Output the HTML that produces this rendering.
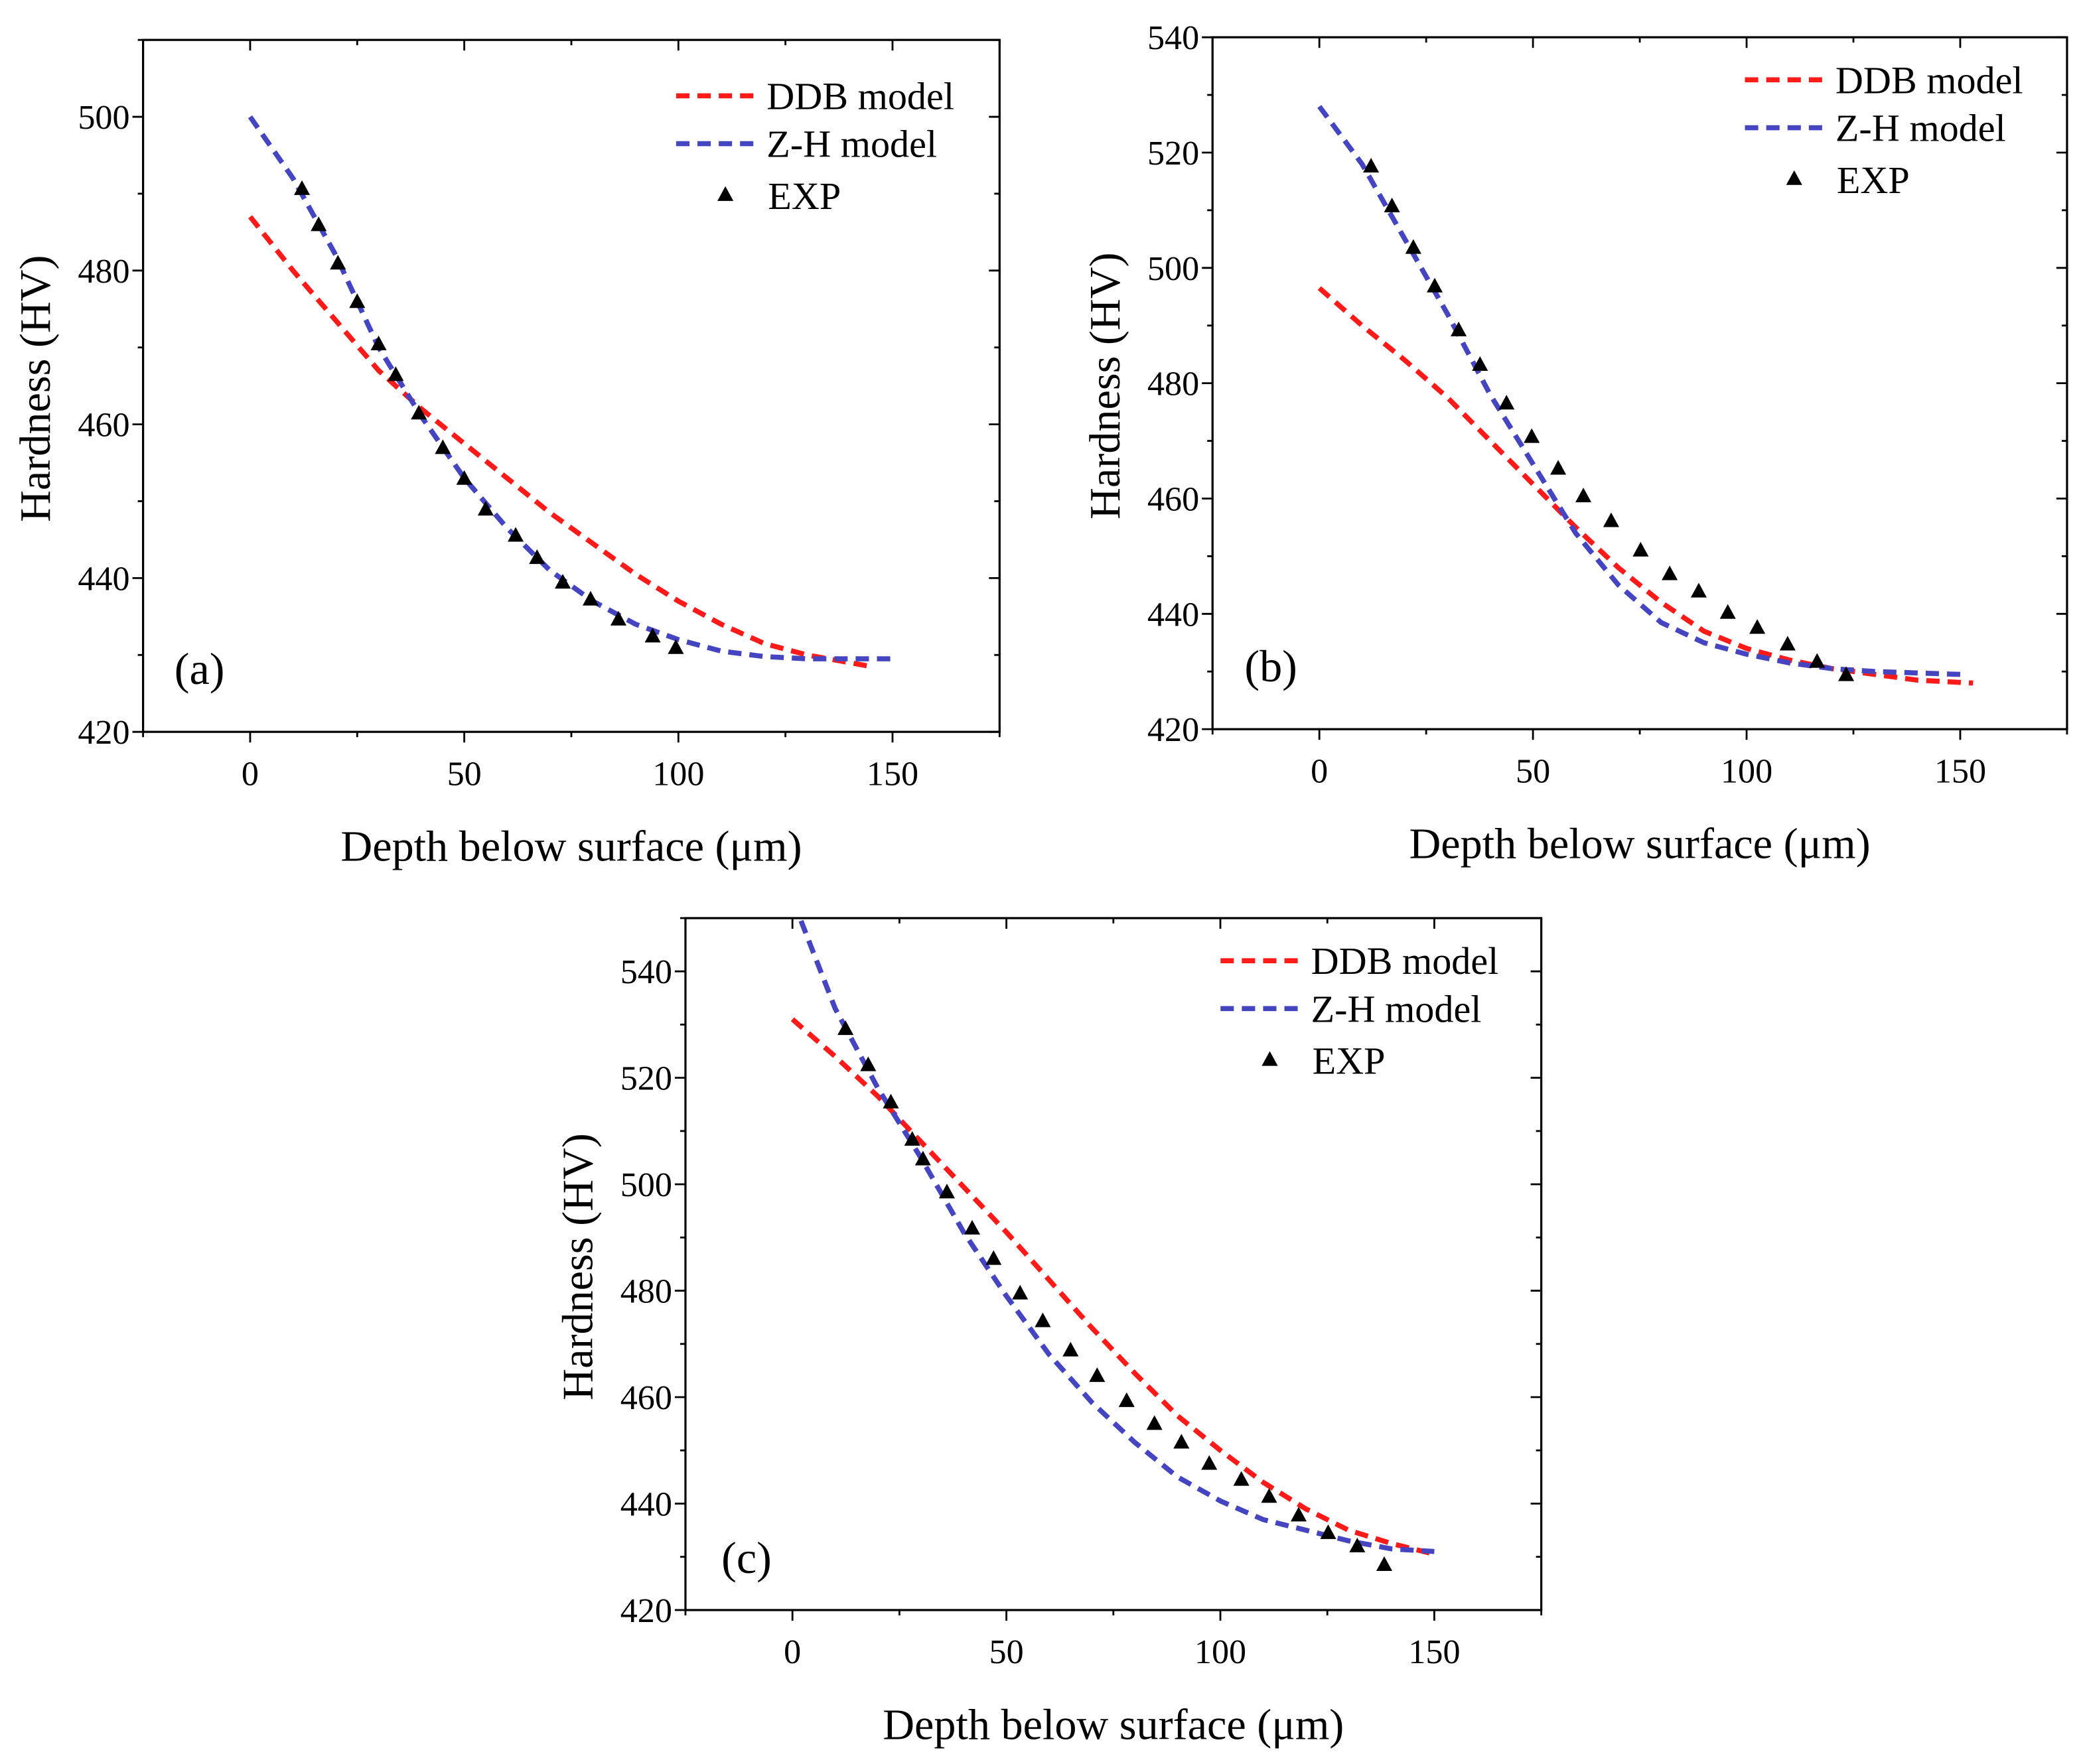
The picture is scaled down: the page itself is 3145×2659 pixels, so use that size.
<!DOCTYPE html>
<html><head><meta charset="utf-8"><style>
html,body{margin:0;padding:0;background:#fff;}
svg, svg text{font-family:"Liberation Serif","Times New Roman",serif;}
</style></head><body>
<svg id="fig" xmlns="http://www.w3.org/2000/svg" width="3145" height="2654" viewBox="0 0 1568 1323.2" font-family="Liberation Serif, serif"></svg>
<script>
// Panel (a)
const aDdbX=[0,10,20,30,40,50,60,70,80,90,100,110,120,130,140,145];
const aDdbY=[487,480,473.5,467,462,457.5,453,448.5,444.5,440.5,437,434,431.5,430,429,428.5];
const aZhX=[0,10,20,30,40,50,60,70,80,90,100,110,120,130,140,150];
const aZhY=[500,492,482,470,461,453,446.5,441,437,434,432,430.5,429.8,429.5,429.5,429.5];
const aExpX=[12.1,16,20.5,25,30,34,39.4,45,50,55,62,67,73,79.5,86,94,99.4];
const aExpY=[490.7,486,481,476,470.5,466.5,461.5,457,453,449,445.6,442.7,439.5,437.3,434.7,432.5,431];
const aYTicks=[420,440,460,480,500];
// Panel (b)
const bDdbX=[0,10,20,30,40,50,60,70,80,90,100,110,120,130,140,153];
const bDdbY=[496.5,490,484,477.5,470,462.5,455,448,442,437,434,432,430.5,429.5,428.5,428];
const bZhX=[0,10,20,30,40,50,60,70,80,90,100,110,120,130,150];
const bZhY=[528,518,505,492,478,466,454,445,438.5,435,433,431.5,430.5,430,429.5];
const bExpX=[12.1,17,22,27,32.6,37.6,43.8,49.7,55.9,61.8,68.3,75.2,82,88.8,95.6,102.5,109.6,116.5,123.3];
const bExpY=[517.7,510.8,503.6,496.9,489.3,483.3,476.6,470.8,465.3,460.5,456.2,451.1,447,444,440.3,437.7,434.8,431.8,429.5];
const bYTicks=[420,440,460,480,500,520,540];
// Panel (c)
const cDdbX=[0,10,20,30,40,50,60,70,80,90,100,110,120,130,140,150];
const cDdbY=[531,524,516.5,508,499.5,491,482,473,464.5,456.5,450,444,439,435,432.5,430.5];
const cZhX=[2,10,20,30,40,50,60,70,80,90,100,110,120,130,140,150];
const cZhY=[549.5,533,518,505,491,479,468,459,451.5,445,440.5,437,435,433,431.5,431];
const cExpX=[12.4,17.7,23,28,30.5,36.1,42,47,53.2,58.5,65,71.2,78.1,84.6,90.9,97.4,104.9,111.4,118.3,125.2,132,138.3];
const cExpY=[529.3,522.5,515.5,508.5,504.8,498.6,491.8,486.1,479.6,474.4,468.9,464.1,459.4,455.1,451.6,447.6,444.6,441.4,437.9,434.6,432.1,428.6];
const cYTicks=[420,440,460,480,500,520,540];
const xTicks=[0,50,100,150];

const NS="http://www.w3.org/2000/svg";
const svg=document.getElementById('fig');
const FF='Liberation Serif, Times New Roman, serif';
function mk(tag,attrs,parent,text){const e=document.createElementNS(NS,tag);for(const k in attrs)e.setAttribute(k,attrs[k]);if(text!==undefined){e.textContent=text;e.setAttribute('font-family',FF);}(parent||svg).appendChild(e);return e;}

function panel(p){
  const g=mk('g',{});
  
  
  const L=p.box[0],T=p.box[1],R=p.box[2],B=p.box[3];
  const sx=v=>L+(v-p.xmin)/(p.xmax-p.xmin)*(R-L);
  const sy=v=>B-(v-p.ymin)/(p.ymax-p.ymin)*(B-T);
  const clipId='clip'+p.id;
  const cp=mk('clipPath',{id:clipId},g);mk('rect',{x:L,y:T,width:R-L,height:B-T},cp);
  const fr=mk('rect',{x:L,y:T,width:R-L,height:B-T,fill:'none',stroke:'#000','stroke-width':1.6},g);
  
  
  for(let v=-25;v<=175;v+=25){
    const x=sx(v),maj=(v%50===0);const len=maj?8:4;
    mk('line',{x1:x,y1:B,x2:x,y2:B+len,stroke:'#000','stroke-width':1.4},g);
    mk('line',{x1:x,y1:T,x2:x,y2:T+len,stroke:'#000','stroke-width':1.4},g);
  }
  xTicks.forEach(v=>{const t=mk('text',{x:sx(v),y:B+40,'font-size':26,'text-anchor':'middle'},g,String(v));
    
    });
  for(let v=p.ymin;v<=p.ymax;v+=10){
    const y=sy(v),maj=(v%20===0);const len=maj?8:4;
    mk('line',{x1:L,y1:y,x2:L-len,y2:y,stroke:'#000','stroke-width':1.4},g);
    mk('line',{x1:R,y1:y,x2:R-len,y2:y,stroke:'#000','stroke-width':1.4},g);
  }
  p.yticks.forEach(v=>{const t=mk('text',{x:L-10,y:sy(v)+9,'font-size':26,'text-anchor':'end'},g,String(v));
    
    });
  const xt=mk('text',{x:(L+R)/2,y:B+97,'font-size':33,'text-anchor':'middle'},g,'Depth below surface (μm)');
  
  
  const cy=(T+B)/2+2;
  const yt=mk('text',{x:L-70,y:cy,'font-size':33,'text-anchor':'middle',transform:'rotate(-90 '+(L-70)+' '+cy+')'},g,'Hardness (HV)');
  
  
  const cg=mk('g',{'clip-path':'url(#'+clipId+')'},g);
  function line(xs,ys,col,name){
    const d=xs.map((x,i)=>(i?'L':'M')+sx(x).toFixed(2)+' '+sy(ys[i]).toFixed(2)).join(' ');
    const pth=mk('path',{d:d,fill:'none',stroke:col,'stroke-width':3.8,'stroke-dasharray':'10 6'},cg);
    
    
  }
  line(p.ddbX,p.ddbY,'#ff1a1a','ddb-model-line');
  line(p.zhX,p.zhY,'#4545c2','zh-model-line');
  p.expX.forEach((x,i)=>{
    const X=sx(x),Y=sy(p.expY[i]);
    const tr=mk('path',{d:`M${X} ${Y-6} L${X+6} ${Y+5} L${X-6} ${Y+5} Z`,fill:'#000'},g);
    
    
  });
  const lx=p.leg[0],ly=p.leg[1];
  const lg=mk('g',{},g);
  
  
  mk('line',{x1:lx,y1:ly,x2:lx+64,y2:ly,stroke:'#ff1a1a','stroke-width':3.8,'stroke-dasharray':'10 6'},lg);
  mk('text',{x:lx+68,y:ly+10,'font-size':29},lg,'DDB model');
  mk('line',{x1:lx,y1:ly+36,x2:lx+64,y2:ly+36,stroke:'#4545c2','stroke-width':3.8,'stroke-dasharray':'10 6'},lg);
  mk('text',{x:lx+68,y:ly+46,'font-size':29},lg,'Z-H model');
  const tx=lx+37,ty=ly+74;
  mk('path',{d:`M${tx} ${ty-6} L${tx+6} ${ty+5} L${tx-6} ${ty+5} Z`,fill:'#000'},lg);
  mk('text',{x:lx+69,y:ly+85,'font-size':29},lg,'EXP');
  const pl=mk('text',{x:p.lab[0],y:p.lab[1],'font-size':34},g,'('+p.id+')');
  
  
}
panel({id:'a',box:[107.5,30,751,550],xmin:-25,xmax:175,ymin:420,ymax:510,yticks:aYTicks,
  ddbX:aDdbX,ddbY:aDdbY,zhX:aZhX,zhY:aZhY,expX:aExpX,expY:aExpY,leg:[508,72],lab:[131,514]});
panel({id:'b',box:[911,28,1553,548],xmin:-25,xmax:175,ymin:420,ymax:540,yticks:bYTicks,
  ddbX:bDdbX,ddbY:bDdbY,zhX:bZhX,zhY:bZhY,expX:bExpX,expY:bExpY,leg:[1311,60],lab:[935,512]});
panel({id:'c',box:[515,690,1158,1210],xmin:-25,xmax:175,ymin:420,ymax:550,yticks:cYTicks,
  ddbX:cDdbX,ddbY:cDdbY,zhX:cZhX,zhY:cZhY,expX:cExpX,expY:cExpY,leg:[917,722],lab:[542,1182]});
</script>
</body></html>
